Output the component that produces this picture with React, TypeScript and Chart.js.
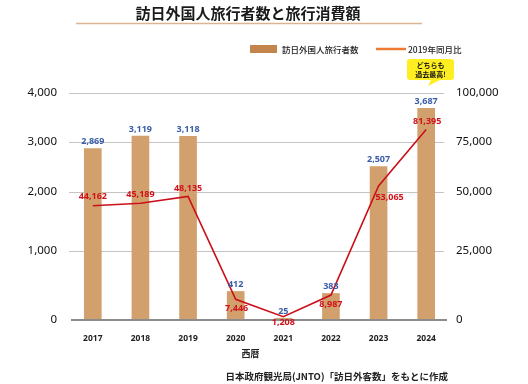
import React, { useEffect, useRef } from 'react';
import { Chart, registerables, LinearScale } from 'chart.js';

// ---------- data ----------
const years = ['2017', '2018', '2019', '2020', '2021', '2022', '2023', '2024'];
const visitors = [2869, 3119, 3118, 412, 25, 383, 2507, 3687];
const spending = [44162, 45189, 48135, 7446, 1208, 8987, 53065, 81395];
const leftTicks = [0, 1000, 2000, 3000, 4000];
const rightTicks = [0, 25000, 50000, 75000, 100000];

// ---------- text ----------
const titleText = '訪日外国人旅行者数と旅行消費額';
const barSeriesName = '訪日外国人旅行者数';
const lineSeriesName = '2019年同月比';
const calloutLines = ['どちらも', '過去最高!'];
const xAxisTitle = '西暦';
const sourceText = '日本政府観光局(JNTO)「訪日外客数」をもとに作成';

// ---------- layout / style ----------
// the reference axis is not uniform: relative height of each tick
const tickFractions = [0, 0.3053, 0.5639, 0.7841, 1];
const stopsByScale: Record<string, number[]> = { y: leftTicks, y1: rightTicks };
// label offsets for the line values [dx, dy]
const lineLabelOffsets: [number, number][] = [
  [0, -9], [0, -9], [0, -8], [1, 9], [0, 6], [0, 9], [11, 12], [1, -8],
];

const BAR_COLOR = '#D1A06C';
const LEGEND_BAR_COLOR = '#C2854C';
const LINE_COLOR = '#CC1019';
const LINE_LABEL_COLOR = '#D0121B';
const BAR_LABEL_COLOR = '#3A5DA8';
const NUM_FONT = '"Noto Sans", "DejaVu Sans", sans-serif';
const JP_FONT = '"Noto Sans CJK JP", "Noto Sans", sans-serif';

class PiecewiseScale extends LinearScale {
  static id = 'piecewise';
  static defaults = LinearScale.defaults;

  _stops(): number[] {
    return stopsByScale[(this as any).id] || leftTicks;
  }

  getPixelForValue(value: any) {
    if (value === null || value === undefined || isNaN(value)) return NaN;
    const s = this._stops();
    const fr = tickFractions;
    const n = s.length;
    let f: number;
    if (value <= s[0]) {
      f = fr[0] + ((value - s[0]) / (s[1] - s[0])) * (fr[1] - fr[0]);
    } else if (value >= s[n - 1]) {
      f = fr[n - 1] + ((value - s[n - 1]) / (s[n - 1] - s[n - 2])) * (fr[n - 1] - fr[n - 2]);
    } else {
      let i = 0;
      while (i < n - 2 && value > s[i + 1]) i++;
      f = fr[i] + ((value - s[i]) / (s[i + 1] - s[i])) * (fr[i + 1] - fr[i]);
    }
    return this.getPixelForDecimal(f);
  }

  getValueForPixel(pixel: number) {
    const f = this.getDecimalForPixel(pixel);
    const s = this._stops();
    const fr = tickFractions;
    const n = s.length;
    let i = 0;
    while (i < n - 2 && f > fr[i + 1]) i++;
    return s[i] + ((f - fr[i]) / (fr[i + 1] - fr[i])) * (s[i + 1] - s[i]);
  }
}

Chart.register(...registerables, PiecewiseScale as any);

const fmt = (v: number) => Number(v).toLocaleString('en-US');

const decorPlugin = {
  id: 'decor',
  beforeDatasetsDraw(chart: any) {
    const ctx = chart.ctx;
    const ys = chart.scales.y;
    const area = chart.chartArea;
    ctx.save();
    ctx.strokeStyle = '#c4c4c4';
    ctx.lineWidth = 1;
    leftTicks.forEach((v) => {
      if (v === 0) return;
      const y = Math.round(ys.getPixelForValue(v)) + 0.5;
      ctx.beginPath();
      ctx.moveTo(area.left, y);
      ctx.lineTo(area.right - 6, y);
      ctx.stroke();
    });
    ctx.restore();
  },
  afterDatasetsDraw(chart: any) {
    const ctx = chart.ctx;
    const ys = chart.scales.y;
    const area = chart.chartArea;
    ctx.save();
    // baseline
    const y0 = ys.getPixelForValue(0);
    ctx.strokeStyle = '#8c8c8c';
    ctx.lineWidth = 2;
    ctx.beginPath();
    ctx.moveTo(area.left + 2, y0);
    ctx.lineTo(area.right - 3, y0);
    ctx.stroke();

    ctx.textAlign = 'center';
    ctx.textBaseline = 'middle';
    // bar labels
    ctx.font = `bold 9px ${NUM_FONT}`;
    ctx.fillStyle = BAR_LABEL_COLOR;
    chart.getDatasetMeta(0).data.forEach((el: any, i: number) => {
      ctx.fillText(fmt(visitors[i]), el.x, el.y - 7);
    });
    // line labels
    ctx.fillStyle = LINE_LABEL_COLOR;
    chart.getDatasetMeta(1).data.forEach((el: any, i: number) => {
      const [dx, dy] = lineLabelOffsets[i];
      ctx.fillText(fmt(spending[i]), el.x + dx, el.y + dy);
    });
    ctx.restore();
  },
  afterDraw(chart: any) {
    const ctx = chart.ctx;
    ctx.save();
    // title
    ctx.fillStyle = '#1a1a1a';
    ctx.textAlign = 'center';
    ctx.textBaseline = 'middle';
    ctx.font = `bold 15px ${JP_FONT}`;
    ctx.fillText(titleText, 248, 13.5);
    ctx.strokeStyle = '#D9B594';
    ctx.lineWidth = 1.5;
    ctx.beginPath();
    ctx.moveTo(76, 23.5);
    ctx.lineTo(422, 23.5);
    ctx.stroke();

    // legend
    ctx.fillStyle = LEGEND_BAR_COLOR;
    ctx.fillRect(250, 45, 27, 8);
    ctx.fillStyle = '#222';
    ctx.textAlign = 'left';
    ctx.font = `500 8.5px ${JP_FONT}`;
    ctx.fillText(barSeriesName, 282, 49.5);
    ctx.strokeStyle = '#F07A32';
    ctx.lineWidth = 2.5;
    ctx.beginPath();
    ctx.moveTo(376, 49);
    ctx.lineTo(406, 49);
    ctx.stroke();
    ctx.fillText(lineSeriesName, 408, 49.5);

    // callout bubble
    ctx.fillStyle = '#FFEE22';
    const bx = 407, by = 59, bw = 47, bh = 21, r = 3;
    ctx.beginPath();
    ctx.moveTo(bx + r, by);
    ctx.lineTo(bx + bw - r, by);
    ctx.quadraticCurveTo(bx + bw, by, bx + bw, by + r);
    ctx.lineTo(bx + bw, by + bh - r);
    ctx.quadraticCurveTo(bx + bw, by + bh, bx + bw - r, by + bh);
    ctx.lineTo(bx + 33, by + bh);
    ctx.lineTo(bx + 21, by + bh + 6);
    ctx.lineTo(bx + 24, by + bh);
    ctx.lineTo(bx + r, by + bh);
    ctx.quadraticCurveTo(bx, by + bh, bx, by + bh - r);
    ctx.lineTo(bx, by + r);
    ctx.quadraticCurveTo(bx, by, bx + r, by);
    ctx.closePath();
    ctx.fill();
    ctx.fillStyle = '#111';
    ctx.textAlign = 'center';
    ctx.font = `bold 7px ${JP_FONT}`;
    ctx.fillText(calloutLines[0], bx + bw / 2, by + 6.5);
    ctx.fillText(calloutLines[1], bx + bw / 2, by + 15.5);

    // axis title and source
    ctx.fillStyle = '#222';
    ctx.font = `bold 9px ${JP_FONT}`;
    ctx.fillText(xAxisTitle, 250.5, 354);
    ctx.textAlign = 'right';
    ctx.font = `bold 9.5px ${JP_FONT}`;
    ctx.fillText(sourceText, 448, 376);
    ctx.restore();
  },
};

export default function App() {
  const canvasRef = useRef<HTMLCanvasElement | null>(null);

  useEffect(() => {
    if (!canvasRef.current) return;
    const chart = new Chart(canvasRef.current, {
      type: 'bar',
      data: {
        labels: years,
        datasets: [
          {
            type: 'bar',
            label: barSeriesName,
            data: visitors,
            backgroundColor: BAR_COLOR,
            borderWidth: 0,
            barThickness: 17,
            yAxisID: 'y',
            order: 2,
          },
          {
            type: 'line',
            label: lineSeriesName,
            data: spending,
            borderColor: LINE_COLOR,
            backgroundColor: LINE_COLOR,
            borderWidth: 1.6,
            pointRadius: 0,
            tension: 0,
            fill: false,
            yAxisID: 'y1',
            order: 1,
          },
        ],
      } as any,
      options: {
        responsive: false,
        animation: false,
        events: [],
        layout: { padding: { top: 93, left: 0, right: 0, bottom: 0 } },
        plugins: {
          legend: { display: false },
          title: { display: false },
          tooltip: { enabled: false },
        },
        scales: {
          x: {
            type: 'category',
            offset: true,
            grid: { display: false },
            border: { display: false },
            ticks: {
              padding: 5,
              color: '#222',
              font: { family: NUM_FONT, size: 8.5, weight: 'bold' },
              maxRotation: 0,
            },
            afterFit: (s: any) => {
              s.height = 64;
            },
          },
          y: {
            type: 'piecewise',
            position: 'left',
            min: 0,
            max: 4000,
            grid: { display: false },
            border: { display: false },
            ticks: {
              stepSize: 1000,
              padding: 4,
              color: '#111',
              font: { family: NUM_FONT, size: 11.5 },
              callback: (v: any) => fmt(v),
            },
            afterFit: (s: any) => {
              s.width = 69;
            },
          },
          y1: {
            type: 'piecewise',
            position: 'right',
            min: 0,
            max: 100000,
            grid: { display: false },
            border: { display: false },
            ticks: {
              stepSize: 25000,
              padding: -2,
              color: '#111',
              font: { family: NUM_FONT, size: 11.5 },
              callback: (v: any) => fmt(v),
            },
            afterFit: (s: any) => {
              s.width = 78;
            },
          },
        },
      } as any,
      plugins: [decorPlugin],
    });
    return () => chart.destroy();
  }, []);

  return (
    <div style={{ position: 'absolute', left: 0, top: 0, width: 528, height: 384, background: '#fff' }}>
      <canvas ref={canvasRef} width={528} height={384} style={{ display: 'block' }} />
    </div>
  );
}
